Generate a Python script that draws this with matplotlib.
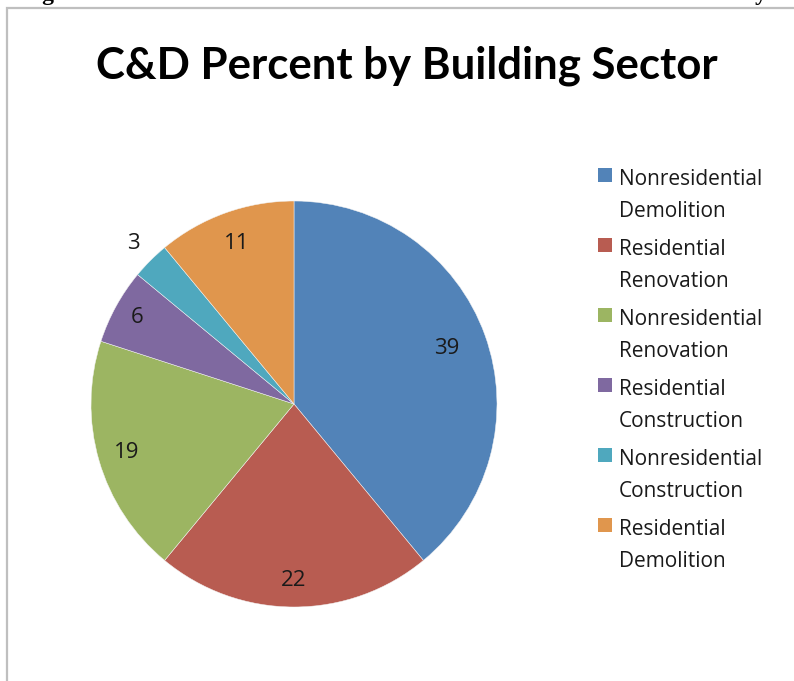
import numpy as np
import matplotlib.pyplot as plt
from matplotlib.patches import Rectangle

sectors = ['Nonresidential\nDemolition', 'Residential\nRenovation',
           'Nonresidential\nRenovation', 'Residential\nConstruction',
           'Nonresidential\nConstruction', 'Residential\nDemolition']
percent = [39, 22, 19, 6, 3, 11]
colors = ['#5283B8', '#B85C51', '#9CB562', '#7F69A0', '#4FA8BE', '#E0964D']

plt.rcParams['font.family'] = ['Open Sans', 'DejaVu Sans']

W, H = 794, 681
fig = plt.figure(figsize=(W / 100, H / 100), dpi=100)

def fx(px):
    return px / W

def fy(py):
    return 1 - py / H

# chart frame (cut off at right and bottom)
fig.patches.append(Rectangle((fx(7), -0.05), 1.2, fy(8) + 0.05,
                             transform=fig.transFigure, fill=False,
                             edgecolor='#BFBFBF', linewidth=1.6))

# bits of the page caption sticking in at the top
fig.text(fx(22), 1.0, 'Figure', fontsize=17, fontweight='bold',
         family='Liberation Serif', va='baseline', ha='left')
fig.text(fx(768), 1.0, 'by', fontsize=17, fontweight='bold',
         family='Liberation Serif', va='baseline', ha='right')

fig.text(fx(407), fy(79), 'C&D Percent by Building Sector',
         fontsize=31.5, fontweight='bold', family='Lato',
         ha='center', va='baseline')

cx, cy, r = 294, 404, 203
ax = fig.add_axes([fx(cx - r), fy(cy + r), 2 * r / W, 2 * r / H])
wedges, _ = ax.pie(percent, colors=colors, startangle=90, counterclock=False,
                   radius=1.0,
                   wedgeprops=dict(edgecolor='#f4f4f4', linewidth=0.35))
ax.set_xlim(-1, 1)
ax.set_ylim(-1, 1)
ax.set_aspect('equal')
ax.axis('off')

dist = [0.80, 0.87, 0.86, 0.88, 1.12, 0.84]
for w, v, d in zip(wedges, percent, dist):
    ang = np.deg2rad((w.theta1 + w.theta2) / 2)
    ax.text(d * np.cos(ang), d * np.sin(ang), str(v), fontsize=16,
            color='#1a1a1a', ha='center', va='center')

# legend: square at the first line of each two-line entry
for i, (lab, c) in enumerate(zip(sectors, colors)):
    top = 168 + 70 * i
    fig.patches.append(Rectangle((fx(598), fy(top + 14)), 14 / W, 14 / H,
                                 transform=fig.transFigure, facecolor=c,
                                 edgecolor='none'))
    for j, line in enumerate(lab.split('\n')):
        fig.text(fx(619), fy(185 + 70 * i + 32 * j), line, fontsize=15,
                 color='#1a1a1a', ha='left', va='baseline')

fig.savefig('out.png', dpi=100)
